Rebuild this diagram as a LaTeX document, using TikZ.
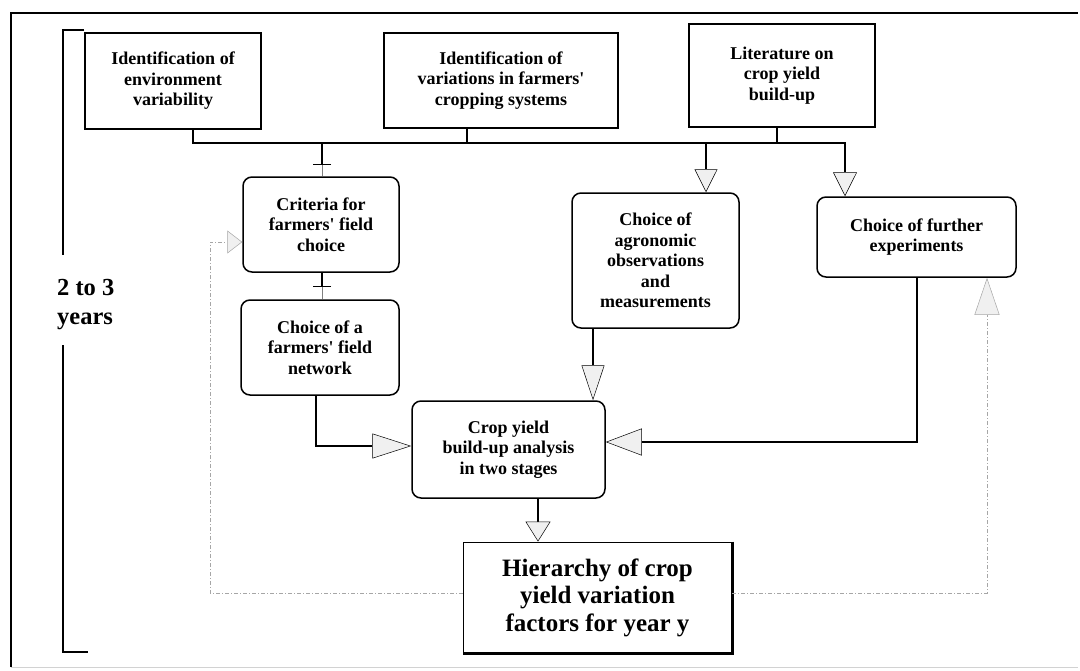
\documentclass[tikz,border=0pt]{standalone}
\usepackage{fontspec}
\setmainfont{Liberation Serif}
\usepackage{tikz}
\usetikzlibrary{arrows.meta,positioning}
\tikzset{
  box/.style={draw, line width=1.5pt, align=center, inner sep=2pt,
    font=\bfseries\fontsize{18}{20.5}\selectfont},
  rbox/.style={box, rounded corners=9pt},
  hierbox/.style={draw, line width=0.8pt, align=center,
    font=\bfseries\fontsize{25}{27.5}\selectfont},
  link/.style={line width=1.3pt},
  feedback/.style={line width=1pt, gray!70, dash pattern=on 4pt off 2pt on 1pt off 2pt},
  tip/.style 2 args={-{Triangle[length=#1,width=#2,fill=gray!12,line width=0.5pt]}},
  stop/.style={-{Bar[width=18pt,line width=1pt]}}
}
\newcommand{\q}{\textquotesingle}
\begin{document}
\begin{tikzpicture}[x=1pt,y=-1pt]
\useasboundingbox (0,0) rectangle (1080,670);
\draw[line width=1.8pt] (11,667) -- (11,13) -- (1078,13);
\draw[gray!35, line width=0.6pt] (11,667) -- (1078,667);
\draw[line width=1.5pt] (84,30) -| (63,255);
\draw[line width=1.5pt] (63,345) |- (88,652);
\node[anchor=west, align=left, inner sep=0pt, font=\bfseries\fontsize{24.5}{29}\selectfont] (yrs) at (57,305) {2 to 3\\years};
\node[box, minimum width=176pt, minimum height=96pt] (env) at (173,81) {Identification of\\environment\\variability};
\node[box, minimum width=234pt, minimum height=95pt] (var) at (501,80.5) {Identification of\\variations in farmers\q\\cropping systems};
\node[box, minimum width=186pt, minimum height=103pt] (lit) at (782,75.5) {Literature on\\crop yield\\build-up};
\node[rbox, minimum width=156pt, minimum height=95pt] (crit) at (321,224.5) {Criteria for\\farmers\q{} field\\choice};
\node[rbox, minimum width=158pt, minimum height=95pt] (net) at (320,347.5) {Choice of a\\farmers\q{} field\\network};
\node[rbox, minimum width=167pt, minimum height=135pt] (agro) at (655.5,260.5) {Choice of\\agronomic\\observations\\and\\measurements};
\node[rbox, minimum width=199pt, minimum height=80pt] (furth) at (916.5,237) {Choice of further\\experiments};
\node[rbox, minimum width=193pt, minimum height=97pt] (crop) at (508.5,449.5) {Crop yield\\build-up analysis\\in two stages};
\node[hierbox, minimum width=269pt, minimum height=111pt] (hier) at (597.5,597.5) {Hierarchy of crop\\yield variation\\factors for year y};
\draw[line width=3.5pt] (hier.north east) -- (hier.south east) -- (hier.south west);
\coordinate (j1) at (193,143);
\coordinate (j2) at (322,143);
\coordinate (j3) at (467,143);
\coordinate (j4) at (706,143);
\coordinate (j5) at (777,143);
\coordinate (j6) at (845,143);
\draw[link, tip={24pt}{24pt}] (j1 |- env.south) -- (j1) -- (j6) -- (j6 |- furth.north);
\draw[link] (j3 |- var.south) -- (j3);
\draw[link] (j5 |- lit.south) -- (j5);
\draw[link, tip={23pt}{23pt}] (j4) -- (j4 |- agro.north);
\coordinate (k1) at (322,165);
\draw[link, stop] (j2) -- (k1);
\draw[gray, thin] (k1) -- (k1 |- crit.north);
\coordinate (k2) at (322,287);
\draw[link, stop] (k2 |- crit.south) -- (k2);
\draw[gray, thin] (k2) -- (k2 |- net.north);
\coordinate (k3) at (316,446);
\draw[link, tip={39pt}{25pt}] (k3 |- net.south) -- (k3) -- (k3 -| crop.west);
\coordinate (k4) at (593,360);
\draw[link, tip={35pt}{23pt}] (k4 |- agro.south) -- (k4 |- crop.north);
\coordinate (k5) at (917,442);
\draw[link, tip={36pt}{27pt}] (k5 |- furth.south) -- (k5) -- (k5 -| crop.east);
\coordinate (k6) at (538,520);
\draw[link, tip={20pt}{25pt}] (k6 |- crop.south) -- (k6 |- hier.north);
\coordinate (fl) at (210,593);
\coordinate (fc) at (210,242);
\coordinate (fr) at (987,593);
\draw[feedback, tip={15pt}{23pt}] (fl -| hier.west) -- (fl) -- (fc) -- (fc -| crit.west);
\draw[feedback, tip={37pt}{25pt}] (fr -| hier.east) -- (fr) -- (fr |- furth.south);
\end{tikzpicture}
\end{document}
